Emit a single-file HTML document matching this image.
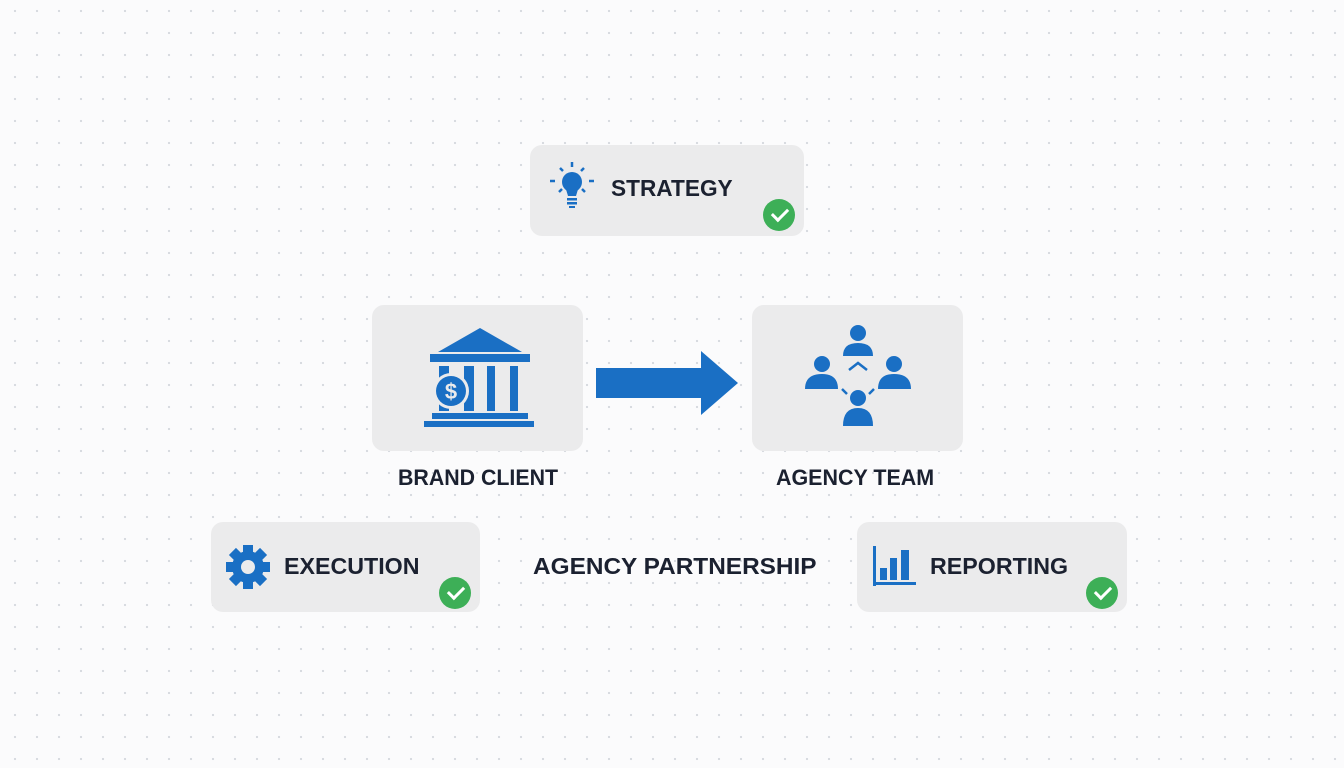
<!DOCTYPE html>
<html><head><style>
body{margin:0;width:1344px;height:768px;overflow:hidden;background:#fbfbfc;background-image:radial-gradient(circle,#d6d9de 1px,transparent 1.3px);background-size:22px 22px;background-position:4px 0;font-family:"Liberation Sans",sans-serif;}
.box{position:absolute;background:#ebebec;border-radius:12px;}
.t{position:absolute;font-weight:bold;color:#1b2130;font-size:23px;white-space:nowrap;transform-origin:left center;}
.chk{position:absolute;width:32px;height:32px;border-radius:50%;background:#3daf57;}
.chk::after{content:"";position:absolute;left:9px;top:9px;width:13px;height:7px;border-left:3.5px solid #fff;border-bottom:3.5px solid #fff;transform:rotate(-45deg);transform-origin:center;}
svg{position:absolute;}
</style></head><body>
<div class="box" style="left:530px;top:145px;width:274px;height:91px"></div>
<div class="t" style="left:611px;top:175px;transform:scaleX(0.985)">STRATEGY</div>
<div class="chk" style="left:763px;top:199px"></div>
<svg style="left:545px;top:160px" width="55" height="55" viewBox="0 0 55 55" fill="#1a6fc4" stroke="#1a6fc4">
<circle cx="27" cy="22" r="10" stroke="none"/><path d="M20 26 L34 26 L31 36 L23 36Z" stroke="none"/>
<rect x="22" y="38" width="10" height="2.5" stroke="none"/><rect x="22" y="42" width="10" height="2.5" stroke="none"/><rect x="24" y="46" width="6" height="2" stroke="none"/>
<g stroke-width="2.5"><line x1="27" y1="2" x2="27" y2="7"/><line x1="15" y1="8" x2="18" y2="11"/><line x1="39" y1="8" x2="36" y2="11"/><line x1="5" y1="21" x2="10" y2="21"/><line x1="44" y1="21" x2="49" y2="21"/><line x1="14" y1="32" x2="17" y2="29"/><line x1="40" y1="32" x2="37" y2="29"/></g>
</svg>
<div class="box" style="left:372px;top:305px;width:211px;height:146px"></div>
<div class="box" style="left:752px;top:305px;width:211px;height:146px"></div>
<svg style="left:420px;top:325px" width="120" height="110" viewBox="0 0 120 110" fill="#1a6fc4">
<path d="M60 3 L102 27 L18 27Z"/><rect x="10" y="29" width="100" height="8"/>
<rect x="19" y="41" width="10" height="45"/><rect x="44" y="41" width="10" height="45"/><rect x="67" y="41" width="8" height="45"/><rect x="90" y="41" width="8" height="45"/>
<circle cx="31" cy="66" r="18" fill="#ebebec"/><circle cx="31" cy="66" r="15"/>
<text x="31" y="74" font-size="22" font-weight="bold" fill="#ebebec" text-anchor="middle" font-family="Liberation Sans">$</text>
<rect x="12" y="88" width="96" height="6"/><rect x="4" y="96" width="110" height="6"/>
</svg>
<svg style="left:595px;top:350px" width="145" height="66" viewBox="0 0 145 66"><path d="M1 18 H106 V1 L143 33 L106 65 V48 H1Z" fill="#1a6fc4"/></svg>
<svg style="left:800px;top:320px" width="115" height="110" viewBox="0 0 115 110" fill="#1a6fc4">
<circle cx="58" cy="13" r="8"/><path d="M43 36 Q43 23 58 23 Q73 23 73 36Z"/>
<circle cx="22" cy="44" r="8"/><path d="M5 69 Q5 54 22 54 Q38 54 38 69Z"/>
<circle cx="94" cy="44" r="8"/><path d="M78 69 Q78 54 94 54 Q111 54 111 69Z"/>
<circle cx="58" cy="78" r="8"/><path d="M43 106 Q43 88 58 88 Q73 88 73 106Z"/>
<g stroke="#1a6fc4" stroke-width="2.5" fill="none"><path d="M49 50 L58 43 L67 50"/><line x1="42" y1="69" x2="47" y2="74"/><line x1="74" y1="69" x2="69" y2="74"/></g>
</svg>
<div class="t" style="left:398px;top:465px;font-size:22px;transform:scaleX(0.97)">BRAND CLIENT</div>
<div class="t" style="left:776px;top:465px;font-size:22px;transform:scaleX(0.975)">AGENCY TEAM</div>
<div class="box" style="left:211px;top:522px;width:269px;height:90px"></div>
<div class="box" style="left:857px;top:522px;width:270px;height:90px"></div>
<svg style="left:225px;top:544px" width="46" height="46" viewBox="0 0 46 46"><g fill="#1a6fc4" transform="translate(23 23)">
<rect x="-5" y="-22" width="10" height="44"/><rect x="-5" y="-22" width="10" height="44" transform="rotate(45)"/><rect x="-5" y="-22" width="10" height="44" transform="rotate(90)"/><rect x="-5" y="-22" width="10" height="44" transform="rotate(135)"/>
<circle r="16"/><circle r="7" fill="#ebebec"/></g></svg>
<div class="t" style="left:284px;top:553px;transform:scaleX(1.01)">EXECUTION</div>
<div class="chk" style="left:439px;top:577px"></div>
<div class="t" style="left:533px;top:553px;transform:scaleX(1.06)">AGENCY PARTNERSHIP</div>
<svg style="left:871px;top:546px" width="46" height="40" viewBox="0 0 46 40" fill="#1a6fc4">
<rect x="2" y="0" width="3" height="40"/><rect x="2" y="36" width="43" height="3"/>
<rect x="9" y="22" width="7" height="12"/><rect x="19" y="12" width="7" height="22"/><rect x="30" y="4" width="8" height="30"/>
</svg>
<div class="t" style="left:930px;top:553px;transform:scaleX(1.01)">REPORTING</div>
<div class="chk" style="left:1086px;top:577px"></div>
</body></html>
